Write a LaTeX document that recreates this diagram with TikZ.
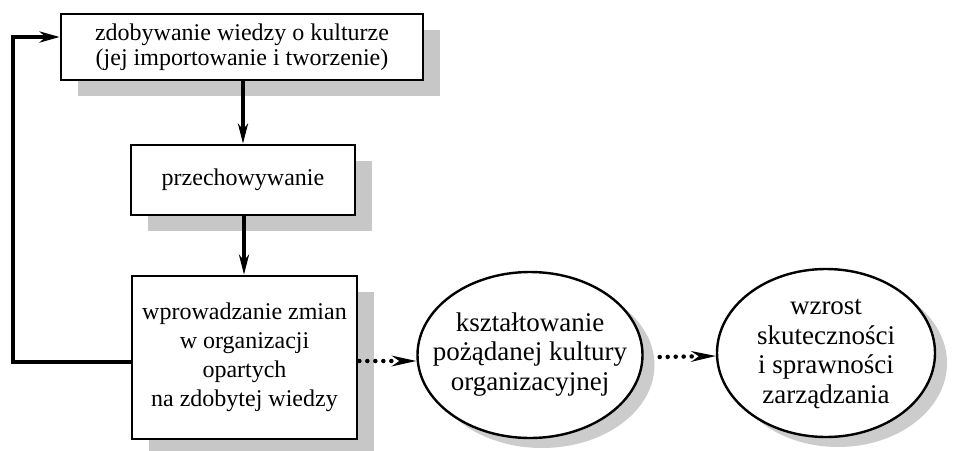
\documentclass[tikz,border=0pt]{standalone}
\usepackage{fontspec}
\setmainfont{Liberation Serif}
\usetikzlibrary{arrows.meta,shadows,shapes.geometric}
\newcommand{\elltext}[1]{\raisebox{4pt}{\makebox[0pt]{\begin{tabular}{@{}c@{}}#1\end{tabular}}}}
\begin{document}
\begin{tikzpicture}[x=1pt,y=-1pt,
  boxnode/.style={draw=black,line width=2.7pt,fill=white,rectangle,align=center,inner sep=0pt,
    font=\fontsize{24}{29}\selectfont,
    drop shadow={shadow xshift=17pt,shadow yshift=-16pt,fill=black!22,opacity=1,draw=none}},
  ellnode/.style={draw=black,line width=2.4pt,fill=white,ellipse,inner sep=0pt,
    font=\fontsize{27}{29.5}\selectfont,
    drop shadow={shadow xshift=12pt,shadow yshift=-10pt,fill=black!20,opacity=1,draw=none}},
  solidarrow/.style={line width=3.4pt,-{Stealth[length=20pt,width=10pt,inset=6pt]}},
  fbline/.style={line width=4.5pt,-{Stealth[length=20pt,width=11pt,inset=6pt]}},
  dotarrow/.style={line width=4.5pt,dash pattern=on 0pt off 8pt,line cap=round,
    -{Stealth[length=25pt,width=11pt,inset=8pt,line cap=butt,line width=0pt,sep=0pt]}}
]
\useasboundingbox (0,0) rectangle (960,450);
\fill[white] (0,0) rectangle (960,450);

\node[boxnode,minimum width=362pt,minimum height=66pt] (b1) at (242,47)
  {zdobywanie wiedzy o kulturze\\[-4pt](jej importowanie i tworzenie)};
\node[boxnode,minimum width=224pt,minimum height=70pt] (b2) at (243,180) {przechowywanie};
\node[boxnode,minimum width=225pt,minimum height=163pt] (b3) at (244.5,357.5)
  {wprowadzanie zmian\\w organizacji\\opartych\\na zdobytej wiedzy};

\node[ellnode,minimum width=225pt,minimum height=166pt] (e1) at (530,355)
  {\elltext{kształtowanie\\pożądanej kultury\\organizacyjnej}};
\node[ellnode,minimum width=218pt,minimum height=168pt] (e2) at (826,353)
  {\elltext{wzrost\\skuteczności\\i sprawności\\zarządzania}};

\draw[solidarrow] (b1.south -| 243,0) -- (b2.north -| 243,0);
\draw[solidarrow] (b2.south -| 244,0) -- (b3.north -| 244,0);

\coordinate (lc) at (13,37);
\draw[fbline] ([yshift=-4.5pt]b3.west) -| (lc) -- (b1.west |- lc);

\draw[dotarrow] ([yshift=-3.5pt,xshift=1pt]b3.east) -- (e1.west |- 0,361);
\draw[dotarrow] ([xshift=16pt,yshift=-2pt]e1.east) -- (e2.west |- 0,356);
\end{tikzpicture}
\end{document}
